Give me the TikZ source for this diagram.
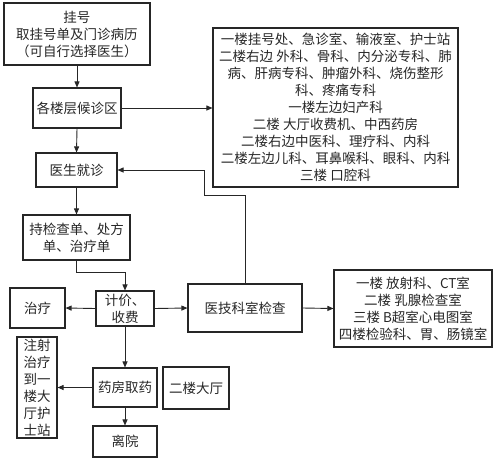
\documentclass[tikz,border=0pt]{standalone}
\usepackage{fontspec}
\setmainfont{Noto Sans CJK SC}
\usetikzlibrary{arrows.meta}
\begin{document}
\begin{tikzpicture}[x=1pt,y=-1pt,
  box/.style={draw=black!85, line width=1.1pt, rectangle, inner sep=0pt, align=center,
    font=\fontsize{13.5}{17}\selectfont, text=black!85},
  arr/.style={draw=black!85, line width=0.9pt, -{Triangle[length=6pt,width=5pt]}},
  ln/.style={draw=black!85, line width=0.9pt}]
\useasboundingbox (0,0) rectangle (498,461);
\node[box, minimum width=146pt, minimum height=62pt] (b1) at (77,34) {挂号\\取挂号单及门诊病历\\（可自行选择医生）};
\node[box, minimum width=88pt, minimum height=40pt] (b2) at (77,108) {各楼层候诊区};
\node[box, minimum width=81pt, minimum height=34pt] (b3) at (76.5,170) {医生就诊};
\node[box, minimum width=107pt, minimum height=45pt] (b4) at (76.5,237.5) {持检查单、处方\\单、治疗单};
\node[box, minimum width=58pt, minimum height=35pt] (b5) at (125,308.5) {计价、\\收费};
\node[box, minimum width=55pt, minimum height=40pt] (b6) at (37.5,308) {治疗};
\node[box, minimum width=114pt, minimum height=48pt] (b7) at (245,308) {医技科室检查};
\node[box, minimum width=158pt, minimum height=77pt] (b8) at (413,308.5) {一楼 放射科、CT室\\二楼\ 乳腺检查室\\三楼 B超室心电图室\\四楼检验科、胃、肠镜室};
\node[box, minimum width=245pt, minimum height=159pt] (b9) at (335.5,107.5) {一楼挂号处、急诊室、输液室、护士站\\二楼右边 外科、骨科、内分泌专科、肺\\病、肝病专科、肿瘤外科、烧伤整形\\科、疼痛专科\\一楼左边妇产科\\二楼 大厅收费机、中西药房\\二楼右边中医科、理疗科、内科\\二楼左边儿科、耳鼻喉科、眼科、内科\\三楼 口腔科};
\node[box, minimum width=64pt, minimum height=39pt] (b10) at (125,387.5) {药房取药};
\node[box, minimum width=66pt, minimum height=42pt] (b11) at (196,388) {二楼大厅};
\node[box, minimum width=40pt, minimum height=101pt] (b12) at (37,387.5) {注射\\治疗\\到一\\楼大\\厅护\\士站};
\node[box, minimum width=64pt, minimum height=31pt] (b13) at (125,441.5) {离院};
\coordinate (k1) at (204,195);
\draw[arr] (b1.south) -- (b2.north);
\draw[arr] (b2.east) -- (b2.east -| b9.west);
\draw[arr] (b2.south) -- (b3.north);
\draw[arr] (b3.south) -- (b4.north);
\draw[arr] (b4.south) -- ++(0,12) -| (b5.north);
\draw[arr] (b5.west) -- (b6.east);
\draw[arr] (b5.east) -- (b7.west);
\draw[arr] (b7.east) -- (b8.west);
\draw[arr] (b5.south) -- (b10.north);
\draw[arr] (b10.west) -- (b10.west -| b12.east);
\draw[arr] (b10.south) -- (b13.north);
\draw[arr] (b7.north) |- (k1) |- (b3.east);
\end{tikzpicture}
\end{document}
